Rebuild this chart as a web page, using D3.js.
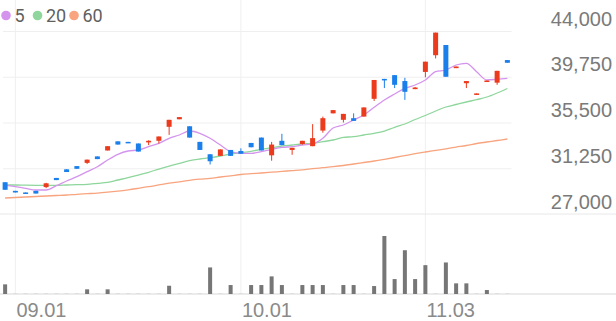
<!DOCTYPE html>
<html>
<head>
<meta charset="utf-8">
<script src="https://cdn.jsdelivr.net/npm/d3@7"></script>
<style>
  html, body { margin: 0; padding: 0; background: #fff; }
  svg { display: block; font-family: Roboto, "Noto Sans", sans-serif; }
</style>
</head>
<body>
<div id="chart"></div>
<script>
// trading days (MM.DD), Aug 29 -> Nov 13
const dates = ["08.29",
  "09.01","09.02","09.03","09.04","09.05","09.08","09.09","09.10","09.11","09.12",
  "09.15","09.16","09.17","09.18","09.19","09.22","09.23","09.24","09.25","09.26","09.29","09.30",
  "10.01","10.02","10.10","10.13","10.14","10.15","10.16","10.17","10.20","10.21","10.22","10.23","10.24",
  "10.27","10.28","10.29","10.30","10.31",
  "11.03","11.04","11.05","11.06","11.07","11.10","11.11","11.12","11.13"];

const open  = [29950,29150,29000,29150,29500,30350,31150,31450,31750,32350,32900,33750,33700,33550,33650,33800,35100,35800,35150,33700,
               32550,32400,32950,32850,33600,34100,32450,33800,32950,33500,33300,34750,36350,35750,35900,36050,37700,39550,39900,39350,
               38600,40200,41750,42700,40550,39150,38100,39300,39200,41300];
const close = [29250,29000,28900,28900,29850,30150,30900,31200,32050,32100,33300,33450,33600,32800,33800,34200,35750,36000,34100,32950,
               31900,33000,32400,32600,33200,32900,33450,33400,33150,33800,34050,35900,36650,36300,35650,36900,39450,39450,39000,38350,
               38750,41150,43850,39750,40700,39350,38200,39400,40300,41050];
const high  = [29950,29150,29000,29150,29900,30350,31150,31450,32050,32350,33300,33750,33700,33550,33850,34200,35750,36000,35150,33700,
               32550,33000,32950,33100,33600,34100,33700,34450,33150,33800,35350,36050,36650,36300,36350,36900,39450,39550,39900,39650,
               38800,41150,43850,42700,40700,39350,38200,39400,40300,41300];
const low   = [29250,29000,28900,28900,29400,30150,30900,31200,31650,32100,32900,33450,33600,32800,33400,33550,34350,35800,34100,32950,
               31600,32400,32400,32600,33200,32900,31950,33400,32500,33450,33300,34550,36350,35500,35650,36050,37500,38700,38700,37600,
               38600,39700,41450,39750,40550,38700,38100,39300,39000,41050];
const volume = [97,1,1,1,1,1,1,1,47,1,47,1,1,1,1,1,83,1,1,1,
                267,1,90,1,90,90,177,90,1,90,90,90,1,90,90,1,80,583,150,440,
                150,290,1,317,107,107,1,40,1,1];

// moving averages
const ma5  = [29690,29535,29387,29229,29229,29628,30065,30464,30929,31393,32016,32545,32852,32945,33251,33567,34032,34338,34710,34496,
              34032,33409,32787,32638,32638,32787,33010,33196,33251,33409,33502,34032,34989,35267,35732,36196,36912,37590,38147,38677,
              38983,39448,40219,40377,40841,40999,40219,39448,39513,39606];
const ma20 = [29693,29693,29675,29665,29665,29665,29693,29721,29758,29851,29944,30158,30372,30622,30873,31180,31458,31709,31951,32109,
              32230,32387,32573,32694,32824,33010,33159,33316,33409,33502,33567,33716,33874,34125,34180,34338,34496,34710,35054,35360,
              35778,36150,36568,36940,37172,37404,37618,37869,38240,38658];
const ma60 = [28486,28532,28579,28625,28671,28718,28764,28829,28885,28941,29025,29127,29247,29387,29535,29703,29870,29991,30130,30232,
              30316,30437,30548,30669,30743,30808,30883,30957,31031,31105,31208,31301,31393,31505,31644,31784,31923,32081,32248,32425,
              32601,32759,32908,33056,33214,33363,33549,33688,33827,33967];

const priceTicks = [27000, 31250, 35500, 39750, 44000];
const dateTicks = ["09.01", "10.01", "11.03"];
const maNames = ["5", "20", "60"];
const maColors = ["#d494ee", "#8ed69c", "#f8a47f"];

const width = 616, height = 321;
const plotRight = 512.5;
const UP = "#ec3a1c", DOWN = "#1a7fea";

const svg = d3.select("#chart").append("svg")
    .attr("width", width)
    .attr("height", height);

const x = d3.scaleBand().domain(dates).range([0, plotRight]);
const cx = d => x(d) + x.bandwidth() / 2;
const y = d3.scaleLinear().domain([27000, 44000]).range([214, 31]);
const yVol = d3.scaleLinear().domain([0, d3.max(volume)]).range([294, 236]);

// horizontal grid
const grid = svg.append("g")
    .attr("transform", "translate(3,0)")
    .call(d3.axisRight(y).tickValues(priceTicks.slice(1)).tickSize(plotRight - 4).tickFormat(""));
grid.select(".domain").remove();
grid.selectAll("line").attr("stroke", "#efefef");

// vertical grid + date labels
const xAxis = svg.append("g")
    .attr("transform", "translate(0,294)")
    .call(d3.axisBottom(x).tickValues(dateTicks).tickSizeInner(-294).tickSizeOuter(0));
xAxis.select(".domain").remove();
xAxis.selectAll("line").attr("stroke", "#efefef");
xAxis.selectAll("text")
    .attr("text-anchor", "start")
    .attr("x", 1)
    .attr("y", 23)
    .attr("dy", null)
    .attr("fill", "#8a8a8a")
    .attr("font-size", 20)
    .attr("font-weight", 300);

// separators
svg.append("line").attr("x1", 0).attr("x2", width).attr("y1", y(27000)).attr("y2", y(27000))
    .attr("stroke", "#e8e8e8");
svg.append("line").attr("x1", 0).attr("x2", width).attr("y1", yVol(0)).attr("y2", yVol(0))
    .attr("stroke", "#e4e4e4").attr("stroke-width", 1.5);

// price labels
const yAxis = svg.append("g")
    .attr("transform", "translate(612,0)")
    .call(d3.axisLeft(y).tickValues(priceTicks).tickSize(0).tickPadding(0).tickFormat(d3.format(",")));
yAxis.select(".domain").remove();
yAxis.selectAll("text")
    .attr("dy", -6)
    .attr("fill", "#7a7a7a")
    .attr("font-size", 20)
    .attr("font-weight", 300);

// volume
svg.append("g").selectAll("rect")
    .data(dates)
    .enter()
    .append("rect")
    .attr("x", d => cx(d) - 2)
    .attr("width", 4)
    .attr("y", (d, i) => yVol(volume[i]))
    .attr("height", (d, i) => yVol(0) - yVol(volume[i]))
    .attr("fill", "#767676");

// moving averages
[ma60, ma20, ma5].forEach((ma, k) => {
    const line = d3.line()
        .x((v, i) => cx(dates[i]))
        .y(v => y(v))
        .curve(d3.curveMonotoneX);
    svg.append("path")
        .datum(ma)
        .attr("d", line)
        .attr("fill", "none")
        .attr("stroke", maColors[2 - k])
        .attr("stroke-width", 1.3);
});

// candles
const candles = svg.append("g").selectAll("g")
    .data(dates)
    .enter()
    .append("g");

candles.append("line")
    .attr("x1", d => cx(d))
    .attr("x2", d => cx(d))
    .attr("y1", (d, i) => y(high[i]))
    .attr("y2", (d, i) => y(low[i]))
    .attr("stroke", (d, i) => close[i] >= open[i] ? UP : DOWN)
    .attr("stroke-width", 1);

candles.append("rect")
    .attr("x", d => cx(d) - 2.5)
    .attr("width", 5)
    .attr("y", (d, i) => y(Math.max(open[i], close[i])))
    .attr("height", (d, i) => Math.max(1.5, Math.abs(y(open[i]) - y(close[i]))))
    .attr("fill", (d, i) => close[i] >= open[i] ? UP : DOWN);

// legend
const legendX = [6, 37.5, 74];
const legend = svg.append("g");
maNames.forEach((name, k) => {
    legend.append("circle").attr("cx", legendX[k]).attr("cy", 15.5).attr("r", 4.8).attr("fill", maColors[k]);
    legend.append("text")
        .attr("x", legendX[k] + 8.5)
        .attr("y", 22)
        .attr("fill", "#5f5f5f")
        .attr("font-size", 18)
        .text(name);
});
</script>
</body>
</html>
